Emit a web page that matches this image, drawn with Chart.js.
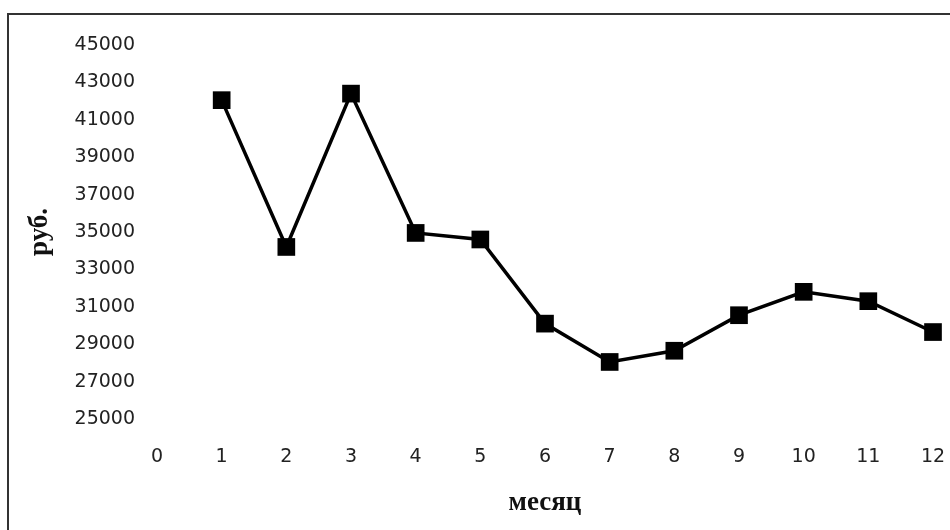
<!DOCTYPE html>
<html>
<head>
<meta charset="utf-8">
<script src="https://cdn.jsdelivr.net/npm/chart.js@4"></script>
<style>
  html, body { margin: 0; padding: 0; background: #fff; }
  #wrap { width: 950px; height: 530px; }
</style>
</head>
<body>
<div id="wrap"><canvas id="myChart"></canvas></div>
<script>
const months = [1, 2, 3, 4, 5, 6, 7, 8, 9, 10, 11, 12];
const values = [42050, 34200, 42400, 34950, 34600, 30100, 28050, 28650, 30550, 31800, 31300, 29650];
const yTicks = [25000, 27000, 29000, 31000, 33000, 35000, 37000, 39000, 41000, 43000, 45000];
const xTicks = [0, 1, 2, 3, 4, 5, 6, 7, 8, 9, 10, 11, 12];

// frame around the chart (only top and left edges are visible)
const framePlugin = {
	id: "frame",
	afterDraw(chart) {
		const c = chart.ctx;
		c.save();
		c.strokeStyle = "#333";
		c.lineWidth = 2;
		c.beginPath();
		c.moveTo(8, 560);
		c.lineTo(8, 14);
		c.lineTo(980, 14);
		c.stroke();
		c.restore();
	},
};

const ctx = document.getElementById("myChart");

let myChart = new Chart(ctx, {
	type: "line",
	data: {
		datasets: [
			{
				data: months.map((m, i) => ({ x: m, y: values[i] })),
				borderColor: "#000",
				backgroundColor: "#000",
				borderWidth: 3.5,
				pointStyle: "rect",
				pointRadius: 12.5,
				pointBorderWidth: 0,
				tension: 0,
				fill: false,
				clip: false,
			},
		],
	},
	options: {
		responsive: true,
		maintainAspectRatio: false,
		animation: false,
		layout: {
			padding: { top: 45, right: 17, bottom: 0, left: 0 },
		},
		plugins: {
			legend: { display: false },
			tooltip: { enabled: false },
		},
		scales: {
			x: {
				type: "linear",
				min: 0,
				max: 12,
				afterBuildTicks: (scale) => {
					scale.ticks = xTicks.map((v) => ({ value: v }));
				},
				afterFit: (scale) => {
					scale.height = 111;
					scale.paddingLeft = 0;
					scale.paddingRight = 0;
				},
				grid: { display: false, drawTicks: false },
				border: { display: false },
				ticks: {
					color: "#222",
					padding: 27,
					maxRotation: 0,
					font: { family: "DejaVu Sans", size: 19 },
					callback: (v) => String(v),
				},
				title: {
					display: true,
					text: "месяц",
					color: "#111",
					padding: { top: 20, bottom: 11 },
					font: { family: "Liberation Serif", size: 27, weight: "bold" },
				},
			},
			y: {
				min: 25000,
				max: 45000,
				afterBuildTicks: (scale) => {
					scale.ticks = yTicks.map((v) => ({ value: v }));
				},
				afterFit: (scale) => {
					scale.width = 157;
				},
				grid: { display: false, drawTicks: false },
				border: { display: false },
				ticks: {
					color: "#222",
					padding: 22,
					font: { family: "DejaVu Sans", size: 19 },
					callback: (v) => String(v),
				},
				title: {
					display: true,
					text: "руб.",
					color: "#111",
					padding: { top: 24, bottom: 0 },
					font: { family: "Liberation Serif", size: 27, weight: "bold" },
				},
			},
		},
	},
	plugins: [framePlugin],
});
</script>
</body>
</html>
